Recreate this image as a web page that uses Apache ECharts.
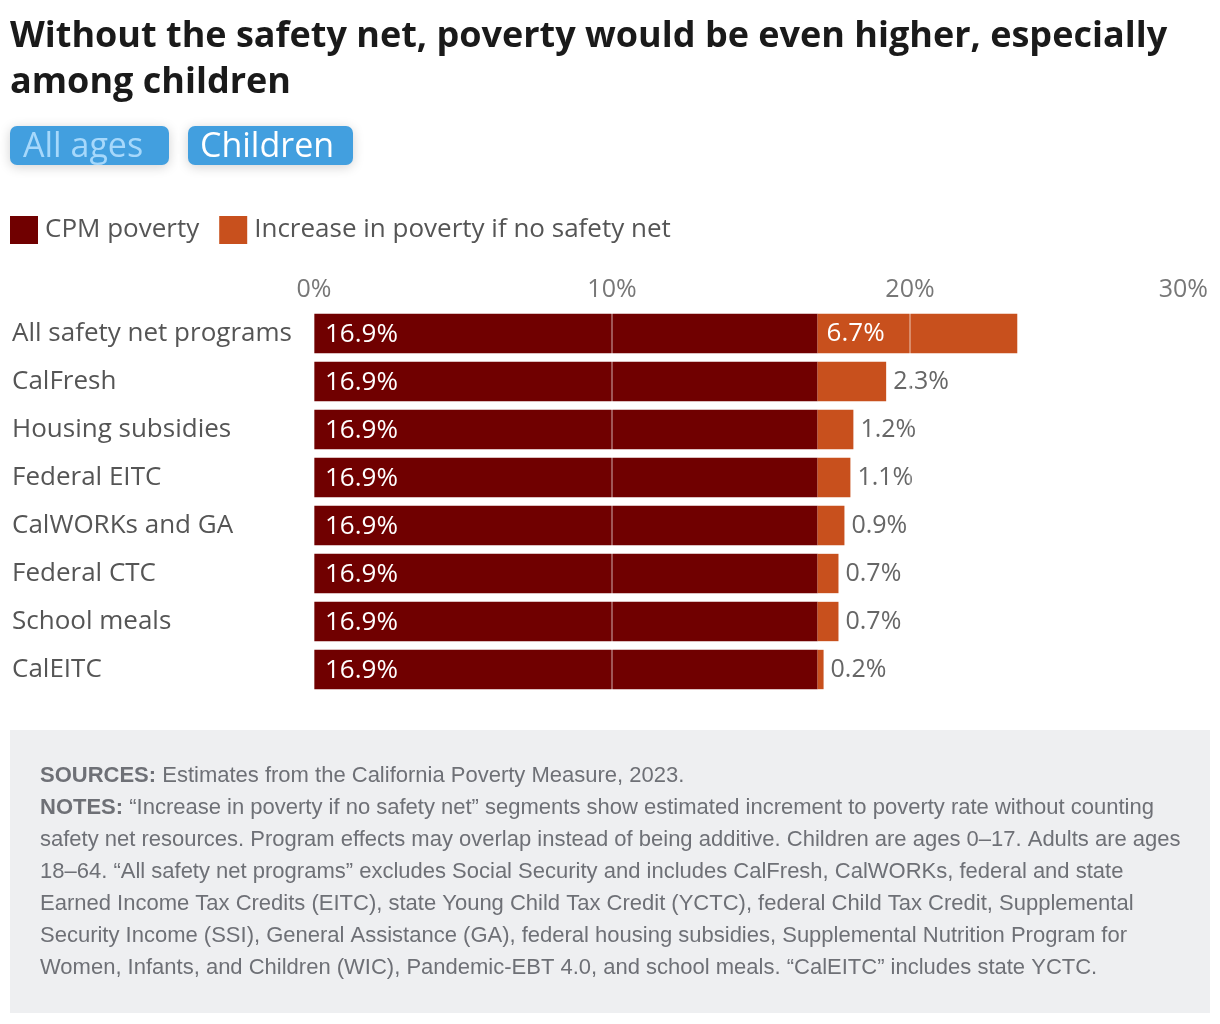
<!DOCTYPE html>
<html>
<head>
<meta charset="utf-8">
<script src="https://cdn.jsdelivr.net/npm/echarts@6/dist/echarts.min.js"></script>
<style>
html,body{margin:0;padding:0;background:#fff;}
#chart{width:1220px;height:1024px;}
</style>
</head>
<body>
<div id="chart"></div>
<script>
const categories = ['All safety net programs','CalFresh','Housing subsidies','Federal EITC','CalWORKs and GA','Federal CTC','School meals','CalEITC'];
const cpmPoverty = [16.9,16.9,16.9,16.9,16.9,16.9,16.9,16.9];
const increaseNoNet = [6.7,2.3,1.2,1.1,0.9,0.7,0.7,0.2];
const xTicks = [0,10,20,30];
const seriesNames = ['CPM poverty','Increase in poverty if no safety net'];

const FONT = '"Open Sans", Lato, sans-serif';
const FOOT = '"Liberation Sans", Arial, sans-serif';

const chart = echarts.init(document.getElementById('chart'));

const footerLines = [
  '{b|SOURCES:} Estimates from the California Poverty Measure, 2023.',
  '{b|NOTES:} \u201cIncrease in poverty if no safety net\u201d segments show estimated increment to poverty rate without counting',
  'safety net resources. Program effects may overlap instead of being additive. Children are ages 0\u201317. Adults are ages',
  '18\u201364. \u201cAll safety net programs\u201d excludes Social Security and includes CalFresh, CalWORKs, federal and state',
  'Earned Income Tax Credits (EITC), state Young Child Tax Credit (YCTC), federal Child Tax Credit, Supplemental',
  'Security Income (SSI), General Assistance (GA), federal housing subsidies, Supplemental Nutrition Program for',
  'Women, Infants, and Children (WIC), Pandemic-EBT 4.0, and school meals. \u201cCalEITC\u201d includes state YCTC.'
];

const incData = increaseNoNet.map((v, i) => {
  if (i === 0) {
    return {value: v, label: {show: true, position: 'insideLeft', distance: 9, color: '#fff', fontSize: 26}};
  }
  return {value: v, label: {show: true, position: 'right', distance: 7, color: '#666', fontSize: 25}};
});

chart.setOption({
  animation: false,
  textStyle: {fontFamily: FONT},
  title: {
    text: 'Without the safety net, poverty would be even higher, especially\namong children',
    left: 10, top: 14, padding: 0,
    textStyle: {fontFamily: FONT, fontSize: 36, fontWeight: 'bold', color: '#1a1a1a', lineHeight: 46}
  },
  legend: {
    left: 10, top: 216, padding: 0,
    itemWidth: 28, itemHeight: 28, itemGap: 20,
    icon: 'rect',
    data: seriesNames,
    textStyle: {fontFamily: FONT, fontSize: 26, color: '#555', padding: [0,0,0,2]}
  },
  grid: {left: 314, right: 12, top: 309.5, bottom: 330.5, containLabel: false},
  xAxis: {
    type: 'value', position: 'top', min: 0, max: 30, interval: 10, z: 5,
    axisLine: {show: false}, axisTick: {show: false},
    axisLabel: {formatter: '{value}%', fontFamily: FONT, fontSize: 25, color: '#777', margin: 7, alignMaxLabel: 'right'},
    splitLine: {show: true, lineStyle: {color: 'rgba(255,255,255,0.45)', width: 1.5}}
  },
  yAxis: {
    type: 'category', data: categories, inverse: true,
    axisLine: {show: false}, axisTick: {show: false},
    axisLabel: {align: 'left', margin: 302, fontFamily: FONT, fontSize: 26, color: '#555'}
  },
  series: [
    {
      name: seriesNames[0], type: 'bar', stack: 'total', data: cpmPoverty,
      barCategoryGap: '18%',
      itemStyle: {color: '#700000'},
      label: {show: true, position: 'insideLeft', distance: 11, color: '#fff', fontSize: 26, fontFamily: FONT, formatter: '{c}%', offset: [0, 1]}
    },
    {
      name: seriesNames[1], type: 'bar', stack: 'total', data: incData,
      itemStyle: {color: '#c8501d'},
      label: {show: true, fontFamily: FONT, formatter: '{c}%'}
    }
  ],
  graphic: [
    {type: 'rect', left: 10, top: 126, shape: {width: 159, height: 39, r: 7},
     style: {fill: '#429fdf', shadowBlur: 12, shadowColor: 'rgba(0,0,0,0.18)', shadowOffsetY: 2}},
    {type: 'text', left: 23, top: 128, style: {text: 'All ages', font: '34px ' + FONT, fill: '#a6d8fb', lineHeight: 38}},
    {type: 'rect', left: 188, top: 126, shape: {width: 165, height: 39, r: 7},
     style: {fill: '#429fdf', shadowBlur: 12, shadowColor: 'rgba(0,0,0,0.18)', shadowOffsetY: 2}},
    {type: 'text', left: 200, top: 128, style: {text: 'Children', font: '34px ' + FONT, fill: '#ffffff', lineHeight: 38}},
    {type: 'rect', left: 10, top: 730, shape: {width: 1200, height: 283}, style: {fill: '#eeeff1'}, z: -1},
    {type: 'text', left: 40, top: 760, z: 10,
     style: {
       text: footerLines.join('\n'),
       font: '22px ' + FOOT, fill: '#6e7076', lineHeight: 32,
       rich: {b: {fontFamily: FOOT, fontSize: 22, fontWeight: 'bold', fill: '#6e7076', lineHeight: 32}}
     }}
  ]
});
</script>
</body>
</html>
